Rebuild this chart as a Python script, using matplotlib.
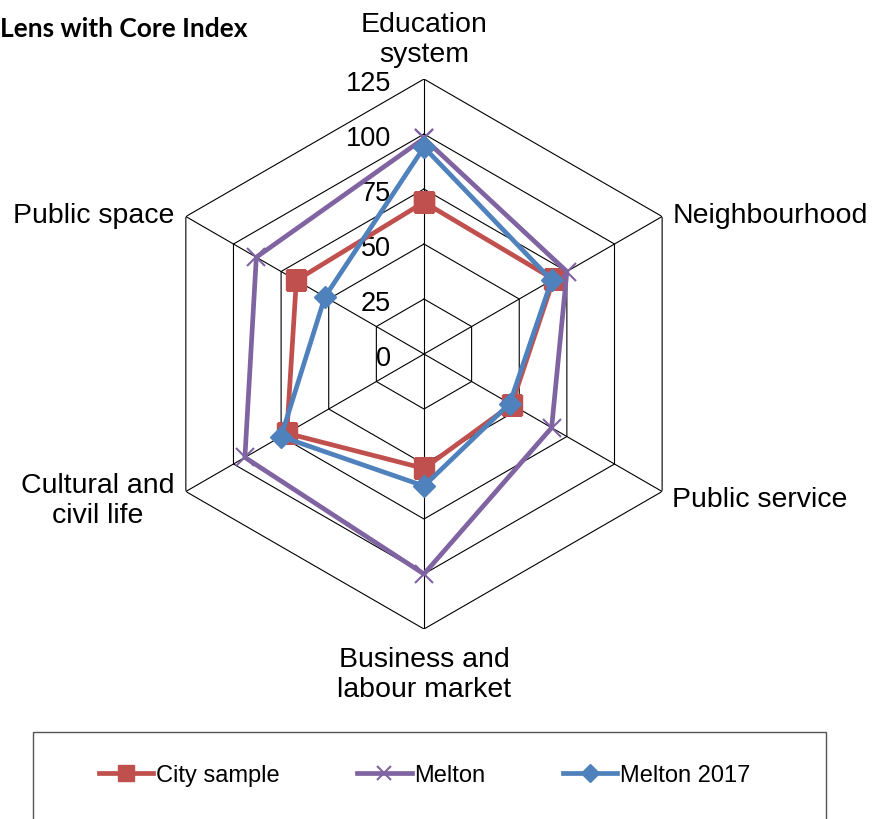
import numpy as np
import matplotlib.pyplot as plt
from matplotlib.patches import Rectangle

plt.rcParams['font.family'] = ['Liberation Sans', 'DejaVu Sans']

CATEGORIES = ["Education\nsystem", "Neighbourhood", "Public service",
              "Business and\nlabour market", "Cultural and\ncivil life", "Public space"]
CITY_SAMPLE = [69, 68, 46, 52, 72, 67]
MELTON = [98, 75, 67, 100, 94, 88]
MELTON_2017 = [94, 67, 45, 60, 75, 52]
RINGS = [0, 25, 50, 75, 100, 125]
R_MAX = 125

RED = '#C0504D'
PURPLE = '#8064A2'
BLUE = '#4F81BD'
FONT_SIZE = 20.5

n = len(CATEGORIES)
theta = np.arange(n) * 2 * np.pi / n
theta_closed = np.append(theta, theta[0])

def closed(vals):
    return np.append(vals, vals[0])

fig = plt.figure(figsize=(8.77, 8.2), dpi=100)
ax = fig.add_axes([0.1699, 0.2317, 0.6271, 0.6707], projection='polar')
ax.set_theta_offset(np.pi / 2)
ax.set_theta_direction(-1)
ax.set_ylim(0, R_MAX)
ax.grid(False)
ax.set_xticks([])
ax.set_yticks([])
ax.spines['polar'].set_visible(False)
ax.patch.set_alpha(0)

# hexagonal grid rings and spokes
for r in RINGS[1:]:
    ax.plot(theta_closed, [r] * (n + 1), color='black', lw=0.8, zorder=1)
for t in theta:
    ax.plot([t, t], [0, R_MAX], color='black', lw=0.8, zorder=1)

# radial value labels left of the top spoke
for r in RINGS:
    ax.annotate(str(r), xy=(0, r), xytext=(-33, -4), textcoords='offset pixels',
                ha='right', va='center', fontsize=FONT_SIZE - 1)

# category labels
label_offsets = [((0, 12), 'center', 'bottom'),
                 ((10, 2), 'left', 'center'),
                 ((10, -7), 'left', 'center'),
                 ((0, -17), 'center', 'top'),
                 ((-11, -8), 'right', 'center'),
                 ((-11, 2), 'right', 'center')]
for t, name, (off, ha, va) in zip(theta, CATEGORIES, label_offsets):
    ax.annotate(name, xy=(t, R_MAX), xytext=off, textcoords='offset pixels',
                ha=ha, va=va, fontsize=FONT_SIZE, linespacing=1.2,
                multialignment='center')

ax.plot(theta_closed, closed(CITY_SAMPLE), color=RED, lw=3.4, marker='s',
        markersize=14, label='City sample', zorder=3)
ax.plot(theta_closed, closed(MELTON), color=PURPLE, lw=3.4, marker='x',
        markersize=13, mew=1.5, label='Melton', zorder=4)
ax.plot(theta_closed, closed(MELTON_2017), color=BLUE, lw=3.4, marker='D',
        markersize=11, label='Melton 2017', zorder=5)

fig.text(0.0, 1 - 29 / 820, 'Lens with Core Index', ha='left', va='center',
         fontsize=19, fontweight='bold', family=['Lato', 'DejaVu Sans'])

# legend box
fig.patches.append(Rectangle((33 / 877, -0.01), (826 - 33) / 877, (820 - 733) / 820 + 0.01,
                             transform=fig.transFigure, fill=False,
                             edgecolor='#555555', lw=1.0))
handles, labels = ax.get_legend_handles_labels()
fig.legend(handles, labels, loc='center', bbox_to_anchor=(0.484, 1 - 776 / 820),
           ncol=3, frameon=False, fontsize=17, handlelength=2.3,
           handletextpad=0.1, columnspacing=3.3, markerscale=0.8)

fig.savefig('out.png', dpi=100)
